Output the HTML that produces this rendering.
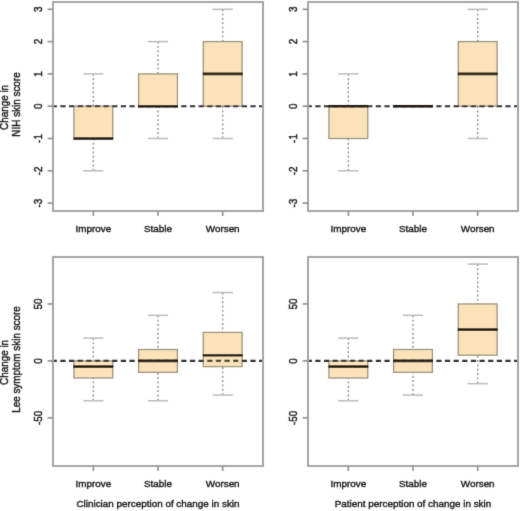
<!DOCTYPE html>
<html><head><meta charset="utf-8"><style>
html,body{margin:0;padding:0;background:#fff;width:520px;height:511px;overflow:hidden}
svg text{font-family:"Liberation Sans",sans-serif;fill:#1a1a1a;stroke:#1a1a1a;stroke-width:0.4px}
</style></head><body>
<svg width="520" height="511" viewBox="0 0 520 511" style="display:block">
<rect x="0" y="0" width="520" height="511" fill="#fff"/>
<defs><filter id="bl" x="0" y="0" width="520" height="511" filterUnits="userSpaceOnUse"><feConvolveMatrix order="3" kernelMatrix="0.01134 0.08382 0.01134 0.08382 0.61935 0.08382 0.01134 0.08382 0.01134" divisor="1" edgeMode="duplicate"/></filter></defs>
<g filter="url(#bl)">
<line x1="93.35" y1="73.90" x2="93.35" y2="106.20" stroke="#8c8c8c" stroke-width="1.4" stroke-dasharray="1.9 2.45"/>
<line x1="83.25" y1="73.90" x2="103.45" y2="73.90" stroke="#bbbbbb" stroke-width="1.5"/>
<line x1="93.35" y1="170.80" x2="93.35" y2="138.50" stroke="#8c8c8c" stroke-width="1.4" stroke-dasharray="1.9 2.45"/>
<line x1="83.25" y1="170.80" x2="103.45" y2="170.80" stroke="#bbbbbb" stroke-width="1.5"/>
<rect x="73.95" y="106.20" width="38.80" height="32.30" fill="#fbe2b9" stroke="#9c927f" stroke-width="1.3"/>
<line x1="158.00" y1="41.60" x2="158.00" y2="73.90" stroke="#8c8c8c" stroke-width="1.4" stroke-dasharray="1.9 2.45"/>
<line x1="147.90" y1="41.60" x2="168.10" y2="41.60" stroke="#bbbbbb" stroke-width="1.5"/>
<line x1="158.00" y1="138.50" x2="158.00" y2="106.20" stroke="#8c8c8c" stroke-width="1.4" stroke-dasharray="1.9 2.45"/>
<line x1="147.90" y1="138.50" x2="168.10" y2="138.50" stroke="#bbbbbb" stroke-width="1.5"/>
<rect x="138.60" y="73.90" width="38.80" height="32.30" fill="#fbe2b9" stroke="#9c927f" stroke-width="1.3"/>
<line x1="222.70" y1="9.30" x2="222.70" y2="41.60" stroke="#8c8c8c" stroke-width="1.4" stroke-dasharray="1.9 2.45"/>
<line x1="212.60" y1="9.30" x2="232.80" y2="9.30" stroke="#bbbbbb" stroke-width="1.5"/>
<line x1="222.70" y1="138.50" x2="222.70" y2="106.20" stroke="#8c8c8c" stroke-width="1.4" stroke-dasharray="1.9 2.45"/>
<line x1="212.60" y1="138.50" x2="232.80" y2="138.50" stroke="#bbbbbb" stroke-width="1.5"/>
<rect x="203.30" y="41.60" width="38.80" height="64.60" fill="#fbe2b9" stroke="#9c927f" stroke-width="1.3"/>
<line x1="51.7" y1="106.20" x2="264.0" y2="106.20" stroke="#333" stroke-width="2.1" stroke-dasharray="5.2 3.44"/>
<line x1="73.45" y1="138.50" x2="113.25" y2="138.50" stroke="#1e150a" stroke-width="2.6"/>
<line x1="138.10" y1="106.20" x2="177.90" y2="106.20" stroke="#1e150a" stroke-width="2.6"/>
<line x1="202.80" y1="73.90" x2="242.60" y2="73.90" stroke="#1e150a" stroke-width="2.6"/>
<rect x="53.0" y="2.0" width="210.0" height="209.0" fill="none" stroke="#a6a6a6" stroke-width="2"/>
<line x1="47.6" y1="203.10" x2="53.0" y2="203.10" stroke="#8e8e8e" stroke-width="1.6"/>
<text transform="translate(41.6 203.10) rotate(-90) scale(1 1.12)" text-anchor="middle" font-size="9.9">-3</text>
<line x1="47.6" y1="170.80" x2="53.0" y2="170.80" stroke="#8e8e8e" stroke-width="1.6"/>
<text transform="translate(41.6 170.80) rotate(-90) scale(1 1.12)" text-anchor="middle" font-size="9.9">-2</text>
<line x1="47.6" y1="138.50" x2="53.0" y2="138.50" stroke="#8e8e8e" stroke-width="1.6"/>
<text transform="translate(41.6 138.50) rotate(-90) scale(1 1.12)" text-anchor="middle" font-size="9.9">-1</text>
<line x1="47.6" y1="106.20" x2="53.0" y2="106.20" stroke="#8e8e8e" stroke-width="1.6"/>
<text transform="translate(41.6 106.20) rotate(-90) scale(1 1.12)" text-anchor="middle" font-size="9.9">0</text>
<line x1="47.6" y1="73.90" x2="53.0" y2="73.90" stroke="#8e8e8e" stroke-width="1.6"/>
<text transform="translate(41.6 73.90) rotate(-90) scale(1 1.12)" text-anchor="middle" font-size="9.9">1</text>
<line x1="47.6" y1="41.60" x2="53.0" y2="41.60" stroke="#8e8e8e" stroke-width="1.6"/>
<text transform="translate(41.6 41.60) rotate(-90) scale(1 1.12)" text-anchor="middle" font-size="9.9">2</text>
<line x1="47.6" y1="9.30" x2="53.0" y2="9.30" stroke="#8e8e8e" stroke-width="1.6"/>
<text transform="translate(41.6 9.30) rotate(-90) scale(1 1.12)" text-anchor="middle" font-size="9.9">3</text>
<line x1="93.35" y1="211.0" x2="93.35" y2="216.0" stroke="#8e8e8e" stroke-width="1.6"/>
<text x="93.35" y="231.5" text-anchor="middle" font-size="9.9">Improve</text>
<line x1="158.00" y1="211.0" x2="158.00" y2="216.0" stroke="#8e8e8e" stroke-width="1.6"/>
<text x="158.00" y="231.5" text-anchor="middle" font-size="9.9">Stable</text>
<line x1="222.70" y1="211.0" x2="222.70" y2="216.0" stroke="#8e8e8e" stroke-width="1.6"/>
<text x="222.70" y="231.5" text-anchor="middle" font-size="9.9">Worsen</text>
<line x1="348.35" y1="73.90" x2="348.35" y2="106.20" stroke="#8c8c8c" stroke-width="1.4" stroke-dasharray="1.9 2.45"/>
<line x1="338.25" y1="73.90" x2="358.45" y2="73.90" stroke="#bbbbbb" stroke-width="1.5"/>
<line x1="348.35" y1="170.80" x2="348.35" y2="138.50" stroke="#8c8c8c" stroke-width="1.4" stroke-dasharray="1.9 2.45"/>
<line x1="338.25" y1="170.80" x2="358.45" y2="170.80" stroke="#bbbbbb" stroke-width="1.5"/>
<rect x="328.95" y="106.20" width="38.80" height="32.30" fill="#fbe2b9" stroke="#9c927f" stroke-width="1.3"/>
<line x1="477.70" y1="9.30" x2="477.70" y2="41.60" stroke="#8c8c8c" stroke-width="1.4" stroke-dasharray="1.9 2.45"/>
<line x1="467.60" y1="9.30" x2="487.80" y2="9.30" stroke="#bbbbbb" stroke-width="1.5"/>
<line x1="477.70" y1="138.50" x2="477.70" y2="106.20" stroke="#8c8c8c" stroke-width="1.4" stroke-dasharray="1.9 2.45"/>
<line x1="467.60" y1="138.50" x2="487.80" y2="138.50" stroke="#bbbbbb" stroke-width="1.5"/>
<rect x="458.30" y="41.60" width="38.80" height="64.60" fill="#fbe2b9" stroke="#9c927f" stroke-width="1.3"/>
<line x1="306.7" y1="106.20" x2="519.0" y2="106.20" stroke="#333" stroke-width="2.1" stroke-dasharray="5.2 3.44"/>
<line x1="328.45" y1="106.20" x2="368.25" y2="106.20" stroke="#1e150a" stroke-width="2.6"/>
<line x1="393.10" y1="106.20" x2="432.90" y2="106.20" stroke="#1e150a" stroke-width="2.6"/>
<line x1="457.80" y1="73.90" x2="497.60" y2="73.90" stroke="#1e150a" stroke-width="2.6"/>
<rect x="308.0" y="2.0" width="210.0" height="209.0" fill="none" stroke="#a6a6a6" stroke-width="2"/>
<line x1="302.6" y1="203.10" x2="308.0" y2="203.10" stroke="#8e8e8e" stroke-width="1.6"/>
<text transform="translate(296.6 203.10) rotate(-90) scale(1 1.12)" text-anchor="middle" font-size="9.9">-3</text>
<line x1="302.6" y1="170.80" x2="308.0" y2="170.80" stroke="#8e8e8e" stroke-width="1.6"/>
<text transform="translate(296.6 170.80) rotate(-90) scale(1 1.12)" text-anchor="middle" font-size="9.9">-2</text>
<line x1="302.6" y1="138.50" x2="308.0" y2="138.50" stroke="#8e8e8e" stroke-width="1.6"/>
<text transform="translate(296.6 138.50) rotate(-90) scale(1 1.12)" text-anchor="middle" font-size="9.9">-1</text>
<line x1="302.6" y1="106.20" x2="308.0" y2="106.20" stroke="#8e8e8e" stroke-width="1.6"/>
<text transform="translate(296.6 106.20) rotate(-90) scale(1 1.12)" text-anchor="middle" font-size="9.9">0</text>
<line x1="302.6" y1="73.90" x2="308.0" y2="73.90" stroke="#8e8e8e" stroke-width="1.6"/>
<text transform="translate(296.6 73.90) rotate(-90) scale(1 1.12)" text-anchor="middle" font-size="9.9">1</text>
<line x1="302.6" y1="41.60" x2="308.0" y2="41.60" stroke="#8e8e8e" stroke-width="1.6"/>
<text transform="translate(296.6 41.60) rotate(-90) scale(1 1.12)" text-anchor="middle" font-size="9.9">2</text>
<line x1="302.6" y1="9.30" x2="308.0" y2="9.30" stroke="#8e8e8e" stroke-width="1.6"/>
<text transform="translate(296.6 9.30) rotate(-90) scale(1 1.12)" text-anchor="middle" font-size="9.9">3</text>
<line x1="348.35" y1="211.0" x2="348.35" y2="216.0" stroke="#8e8e8e" stroke-width="1.6"/>
<text x="348.35" y="231.5" text-anchor="middle" font-size="9.9">Improve</text>
<line x1="413.00" y1="211.0" x2="413.00" y2="216.0" stroke="#8e8e8e" stroke-width="1.6"/>
<text x="413.00" y="231.5" text-anchor="middle" font-size="9.9">Stable</text>
<line x1="477.70" y1="211.0" x2="477.70" y2="216.0" stroke="#8e8e8e" stroke-width="1.6"/>
<text x="477.70" y="231.5" text-anchor="middle" font-size="9.9">Worsen</text>
<line x1="93.35" y1="338.12" x2="93.35" y2="360.90" stroke="#8c8c8c" stroke-width="1.4" stroke-dasharray="1.9 2.45"/>
<line x1="83.25" y1="338.12" x2="103.45" y2="338.12" stroke="#bbbbbb" stroke-width="1.5"/>
<line x1="93.35" y1="400.76" x2="93.35" y2="377.98" stroke="#8c8c8c" stroke-width="1.4" stroke-dasharray="1.9 2.45"/>
<line x1="83.25" y1="400.76" x2="103.45" y2="400.76" stroke="#bbbbbb" stroke-width="1.5"/>
<rect x="73.95" y="360.90" width="38.80" height="17.08" fill="#fbe2b9" stroke="#9c927f" stroke-width="1.3"/>
<line x1="158.00" y1="315.34" x2="158.00" y2="349.51" stroke="#8c8c8c" stroke-width="1.4" stroke-dasharray="1.9 2.45"/>
<line x1="147.90" y1="315.34" x2="168.10" y2="315.34" stroke="#bbbbbb" stroke-width="1.5"/>
<line x1="158.00" y1="400.76" x2="158.00" y2="372.29" stroke="#8c8c8c" stroke-width="1.4" stroke-dasharray="1.9 2.45"/>
<line x1="147.90" y1="400.76" x2="168.10" y2="400.76" stroke="#bbbbbb" stroke-width="1.5"/>
<rect x="138.60" y="349.51" width="38.80" height="22.78" fill="#fbe2b9" stroke="#9c927f" stroke-width="1.3"/>
<line x1="222.70" y1="292.56" x2="222.70" y2="332.42" stroke="#8c8c8c" stroke-width="1.4" stroke-dasharray="1.9 2.45"/>
<line x1="212.60" y1="292.56" x2="232.80" y2="292.56" stroke="#bbbbbb" stroke-width="1.5"/>
<line x1="222.70" y1="395.07" x2="222.70" y2="366.59" stroke="#8c8c8c" stroke-width="1.4" stroke-dasharray="1.9 2.45"/>
<line x1="212.60" y1="395.07" x2="232.80" y2="395.07" stroke="#bbbbbb" stroke-width="1.5"/>
<rect x="203.30" y="332.42" width="38.80" height="34.17" fill="#fbe2b9" stroke="#9c927f" stroke-width="1.3"/>
<line x1="51.7" y1="360.90" x2="264.0" y2="360.90" stroke="#333" stroke-width="2.1" stroke-dasharray="5.2 3.44"/>
<line x1="73.45" y1="366.59" x2="113.25" y2="366.59" stroke="#1e150a" stroke-width="2.6"/>
<line x1="138.10" y1="360.90" x2="177.90" y2="360.90" stroke="#1e150a" stroke-width="2.6"/>
<line x1="202.80" y1="355.20" x2="242.60" y2="355.20" stroke="#1e150a" stroke-width="2.6"/>
<rect x="53.0" y="257.0" width="210.0" height="209.0" fill="none" stroke="#a6a6a6" stroke-width="2"/>
<line x1="47.6" y1="417.85" x2="53.0" y2="417.85" stroke="#8e8e8e" stroke-width="1.6"/>
<text transform="translate(41.6 417.85) rotate(-90) scale(1 1.12)" text-anchor="middle" font-size="9.9">-50</text>
<line x1="47.6" y1="360.90" x2="53.0" y2="360.90" stroke="#8e8e8e" stroke-width="1.6"/>
<text transform="translate(41.6 360.90) rotate(-90) scale(1 1.12)" text-anchor="middle" font-size="9.9">0</text>
<line x1="47.6" y1="303.95" x2="53.0" y2="303.95" stroke="#8e8e8e" stroke-width="1.6"/>
<text transform="translate(41.6 303.95) rotate(-90) scale(1 1.12)" text-anchor="middle" font-size="9.9">50</text>
<line x1="93.35" y1="466.0" x2="93.35" y2="471.0" stroke="#8e8e8e" stroke-width="1.6"/>
<text x="93.35" y="486.5" text-anchor="middle" font-size="9.9">Improve</text>
<line x1="158.00" y1="466.0" x2="158.00" y2="471.0" stroke="#8e8e8e" stroke-width="1.6"/>
<text x="158.00" y="486.5" text-anchor="middle" font-size="9.9">Stable</text>
<line x1="222.70" y1="466.0" x2="222.70" y2="471.0" stroke="#8e8e8e" stroke-width="1.6"/>
<text x="222.70" y="486.5" text-anchor="middle" font-size="9.9">Worsen</text>
<line x1="348.35" y1="338.12" x2="348.35" y2="360.90" stroke="#8c8c8c" stroke-width="1.4" stroke-dasharray="1.9 2.45"/>
<line x1="338.25" y1="338.12" x2="358.45" y2="338.12" stroke="#bbbbbb" stroke-width="1.5"/>
<line x1="348.35" y1="400.76" x2="348.35" y2="377.98" stroke="#8c8c8c" stroke-width="1.4" stroke-dasharray="1.9 2.45"/>
<line x1="338.25" y1="400.76" x2="358.45" y2="400.76" stroke="#bbbbbb" stroke-width="1.5"/>
<rect x="328.95" y="360.90" width="38.80" height="17.08" fill="#fbe2b9" stroke="#9c927f" stroke-width="1.3"/>
<line x1="413.00" y1="315.34" x2="413.00" y2="349.51" stroke="#8c8c8c" stroke-width="1.4" stroke-dasharray="1.9 2.45"/>
<line x1="402.90" y1="315.34" x2="423.10" y2="315.34" stroke="#bbbbbb" stroke-width="1.5"/>
<line x1="413.00" y1="395.07" x2="413.00" y2="372.29" stroke="#8c8c8c" stroke-width="1.4" stroke-dasharray="1.9 2.45"/>
<line x1="402.90" y1="395.07" x2="423.10" y2="395.07" stroke="#bbbbbb" stroke-width="1.5"/>
<rect x="393.60" y="349.51" width="38.80" height="22.78" fill="#fbe2b9" stroke="#9c927f" stroke-width="1.3"/>
<line x1="477.70" y1="264.08" x2="477.70" y2="303.95" stroke="#8c8c8c" stroke-width="1.4" stroke-dasharray="1.9 2.45"/>
<line x1="467.60" y1="264.08" x2="487.80" y2="264.08" stroke="#bbbbbb" stroke-width="1.5"/>
<line x1="477.70" y1="383.68" x2="477.70" y2="355.20" stroke="#8c8c8c" stroke-width="1.4" stroke-dasharray="1.9 2.45"/>
<line x1="467.60" y1="383.68" x2="487.80" y2="383.68" stroke="#bbbbbb" stroke-width="1.5"/>
<rect x="458.30" y="303.95" width="38.80" height="51.25" fill="#fbe2b9" stroke="#9c927f" stroke-width="1.3"/>
<line x1="306.7" y1="360.90" x2="519.0" y2="360.90" stroke="#333" stroke-width="2.1" stroke-dasharray="5.2 3.44"/>
<line x1="328.45" y1="366.59" x2="368.25" y2="366.59" stroke="#1e150a" stroke-width="2.6"/>
<line x1="393.10" y1="360.90" x2="432.90" y2="360.90" stroke="#1e150a" stroke-width="2.6"/>
<line x1="457.80" y1="329.58" x2="497.60" y2="329.58" stroke="#1e150a" stroke-width="2.6"/>
<rect x="308.0" y="257.0" width="210.0" height="209.0" fill="none" stroke="#a6a6a6" stroke-width="2"/>
<line x1="302.6" y1="417.85" x2="308.0" y2="417.85" stroke="#8e8e8e" stroke-width="1.6"/>
<text transform="translate(296.6 417.85) rotate(-90) scale(1 1.12)" text-anchor="middle" font-size="9.9">-50</text>
<line x1="302.6" y1="360.90" x2="308.0" y2="360.90" stroke="#8e8e8e" stroke-width="1.6"/>
<text transform="translate(296.6 360.90) rotate(-90) scale(1 1.12)" text-anchor="middle" font-size="9.9">0</text>
<line x1="302.6" y1="303.95" x2="308.0" y2="303.95" stroke="#8e8e8e" stroke-width="1.6"/>
<text transform="translate(296.6 303.95) rotate(-90) scale(1 1.12)" text-anchor="middle" font-size="9.9">50</text>
<line x1="348.35" y1="466.0" x2="348.35" y2="471.0" stroke="#8e8e8e" stroke-width="1.6"/>
<text x="348.35" y="486.5" text-anchor="middle" font-size="9.9">Improve</text>
<line x1="413.00" y1="466.0" x2="413.00" y2="471.0" stroke="#8e8e8e" stroke-width="1.6"/>
<text x="413.00" y="486.5" text-anchor="middle" font-size="9.9">Stable</text>
<line x1="477.70" y1="466.0" x2="477.70" y2="471.0" stroke="#8e8e8e" stroke-width="1.6"/>
<text x="477.70" y="486.5" text-anchor="middle" font-size="9.9">Worsen</text>
<text transform="translate(8.3 107.45) rotate(-90) scale(1 1.12)" text-anchor="middle" font-size="9.9">Change in</text>
<text transform="translate(20.1 104.50) rotate(-90) scale(1 1.12)" text-anchor="middle" font-size="9.9">NIH skin score</text>
<text transform="translate(8.3 362.45) rotate(-90) scale(1 1.12)" text-anchor="middle" font-size="9.9">Change in</text>
<text transform="translate(20.1 359.50) rotate(-90) scale(1 1.12)" text-anchor="middle" font-size="9.9">Lee symptom skin score</text>
<text x="158.0" y="506.9" text-anchor="middle" font-size="9.9">Clinician perception of change in skin</text>
<text x="413.0" y="506.9" text-anchor="middle" font-size="9.9">Patient perception of change in skin</text>
</g>
</svg>
</body></html>
